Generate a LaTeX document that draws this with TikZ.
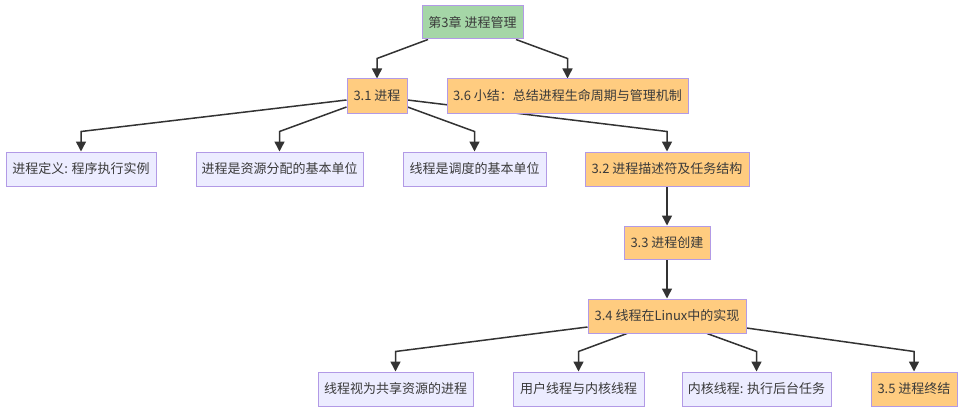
\documentclass[tikz,border=0pt]{standalone}
\usepackage{fontspec}
\setmainfont{Noto Sans CJK SC}
\usetikzlibrary{arrows.meta,backgrounds}
\definecolor{txt}{HTML}{3A3A3A}
\definecolor{bord}{HTML}{B29AE6}
\definecolor{lav}{HTML}{ECECFF}
\definecolor{orng}{HTML}{FFCC80}
\definecolor{grn}{HTML}{A5D6A7}
\definecolor{edgec}{HTML}{333333}
\tikzset{
  box/.style={draw=bord, line width=1pt, inner sep=0pt, text=txt,
    font=\fontsize{13pt}{15pt}\selectfont, minimum height=34pt},
  leaf/.style={box, fill=lav},
  sect/.style={box, fill=orng},
  rootbox/.style={box, fill=grn},
  arr/.style={draw=edgec, line width=1.5pt,
    -{Triangle[length=10pt,width=10pt]}},
}
\begin{document}
\begin{tikzpicture}[x=1pt,y=-1pt]
\useasboundingbox (0,0) rectangle (964,412);
\node[rootbox, minimum width=101pt, minimum height=33pt] (root) at (472.5,22.5) {第3章 进程管理};
\node[sect, minimum width=60pt] (t31) at (377,96) {3.1 进程};
\node[sect, minimum width=241pt] (t36) at (567.5,96) {3.6 小结：总结进程生命周期与管理机制};
\node[leaf, minimum width=150pt] (a1) at (81,169) {进程定义: 程序执行实例};
\node[leaf, minimum width=167pt] (a2) at (279.5,169) {进程是资源分配的基本单位};
\node[leaf, minimum width=143pt] (a3) at (474.5,169) {线程是调度的基本单位};
\node[sect, minimum width=164pt] (t32) at (667,169) {3.2 进程描述符及任务结构};
\node[sect, minimum width=86pt, minimum height=33pt] (t33) at (667,242.5) {3.3 进程创建};
\node[sect, minimum width=158pt] (t34) at (667,316) {3.4 线程在Linux中的实现};
\node[leaf, minimum width=155pt] (b1) at (395.5,389) {线程视为共享资源的进程};
\node[leaf, minimum width=131pt] (b2) at (578.5,389) {用户线程与内核线程};
\node[leaf, minimum width=149pt] (b3) at (756.5,389) {内核线程: 执行后台任务};
\node[sect, minimum width=86pt] (t35) at (914,389) {3.5 进程终结};
\begin{pgfonlayer}{background}
\fill[white] (0,0) rectangle (964,412);
\draw[arr] ([xshift=-44.5pt]root.south) -- ([yshift=20pt]t31.north) -- (t31.north);
\draw[arr] ([xshift=43.5pt]root.south) -- ([yshift=20pt]t36.north) -- (t36.north);
\draw[arr] ([yshift=-4pt]t31.west) -- ([yshift=20pt]a1.north) -- (a1.north);
\draw[arr] ([yshift=-11pt]t31.west) -- ([yshift=20pt]a2.north) -- (a2.north);
\draw[arr] ([yshift=-11pt]t31.east) -- ([yshift=20pt]a3.north) -- (a3.north);
\draw[arr] ([yshift=-4pt]t31.east) -- ([yshift=20pt]t32.north) -- (t32.north);
\draw[arr] (t32.south) -- (t33.north);
\draw[arr] (t33.south) -- (t34.north);
\draw[arr] ([yshift=-11pt]t34.west) -- ([yshift=20pt]b1.north) -- (b1.north);
\draw[arr] ([xshift=-40pt]t34.south) -- ([yshift=20pt]b2.north) -- (b2.north);
\draw[arr] ([xshift=40pt]t34.south) -- ([yshift=20pt]b3.north) -- (b3.north);
\draw[arr] ([yshift=-12pt]t34.east) -- ([yshift=20pt]t35.north) -- (t35.north);
\end{pgfonlayer}
\end{tikzpicture}
\end{document}
